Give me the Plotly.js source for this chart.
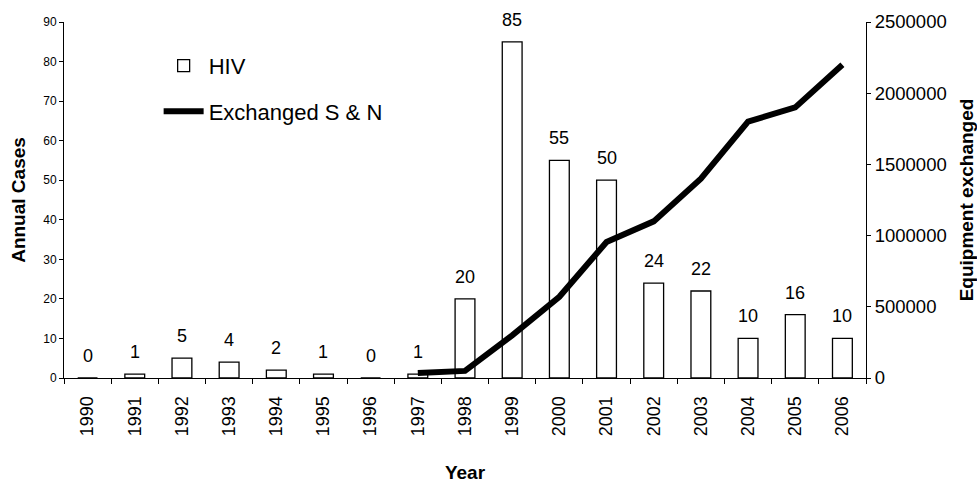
<!DOCTYPE html>
<html>
<head>
<meta charset="utf-8">
<script src="https://cdn.plot.ly/plotly-3.0.1.min.js"></script>
<style>html,body{margin:0;padding:0;background:#fff;}#chart{width:977px;height:483px;}</style>
</head>
<body>
<div id="chart"></div>
<script>
const years = ['1990','1991','1992','1993','1994','1995','1996','1997','1998','1999','2000','2001','2002','2003','2004','2005','2006'];
const hivCases = [0,1,5,4,2,1,0,1,20,85,55,50,24,22,10,16,10];
const exchanged = [null,null,null,null,null,null,null,35000,50000,300000,570000,955000,1100000,1400000,1800000,1900000,2200000];

const FONT = '"Liberation Sans", Arial, sans-serif';

const traces = [
  {
    type: 'bar', name: 'HIV', x: years, y: hivCases, yaxis: 'y',
    marker: {color: '#ffffff', line: {color: '#000000', width: 1.3}},
    legendgroup: 'a', hoverinfo: 'none'
  },
  {
    type: 'scatter', mode: 'lines', name: 'Exchanged S & N', x: years, y: exchanged, yaxis: 'y2',
    line: {color: '#000000', width: 6}, connectgaps: false,
    legendgroup: 'b', hoverinfo: 'none'
  }
];

const annotations = years.map((yr, i) => ({
  x: i, y: hivCases[i], xref: 'x', yref: 'y',
  text: String(hivCases[i]), showarrow: false,
  yshift: 22, yanchor: 'middle', xanchor: 'center',
  font: {family: FONT, size: 18, color: '#000'}
}));

const layout = {
  width: 977, height: 483,
  margin: {l: 64, r: 111, t: 22, b: 105, pad: 0},
  paper_bgcolor: '#ffffff', plot_bgcolor: '#ffffff',
  font: {family: FONT, color: '#000'},
  bargap: 0.58,
  showlegend: true,
  legend: {
    x: 0.118, y: 0.936, xanchor: 'left', yanchor: 'top',
    font: {family: FONT, size: 22, color: '#000'},
    traceorder: 'grouped', tracegroupgap: 14,
    bgcolor: 'rgba(0,0,0,0)', itemwidth: 40
  },
  xaxis: {
    type: 'category', categoryorder: 'array', categoryarray: years,
    range: [-0.5, years.length - 0.5], autorange: false,
    tickangle: -90, tickson: 'boundaries',
    ticks: 'outside', ticklen: 5, tickcolor: '#000', tickwidth: 1,
    ticksuffix: '\u00a0\u00a0',
    showline: true, linecolor: '#000', linewidth: 1, showgrid: false, zeroline: false,
    tickfont: {family: FONT, size: 18, color: '#000'},
    title: {text: '<b>Year</b>', font: {family: FONT, size: 19, color: '#000'}, standoff: 36},
    automargin: false, fixedrange: true
  },
  yaxis: {
    range: [0, 90], autorange: false, dtick: 10, tick0: 0,
    ticks: 'outside', ticklen: 4, tickcolor: '#000',
    showline: true, linecolor: '#000', linewidth: 1, showgrid: false, zeroline: false,
    tickfont: {family: FONT, size: 12, color: '#000'},
    title: {text: '<b>Annual Cases</b>', font: {family: FONT, size: 19, color: '#000'}, standoff: 12},
    automargin: false, fixedrange: true
  },
  yaxis2: {
    overlaying: 'y', side: 'right', range: [0, 2500000], autorange: false, dtick: 500000, tick0: 0,
    tickformat: 'd',
    ticks: 'outside', ticklen: 4, tickcolor: '#000',
    showline: true, linecolor: '#000', linewidth: 1, showgrid: false, zeroline: false,
    tickfont: {family: FONT, size: 18.5, color: '#000'},
    title: {text: '<b>Equipment exchanged</b>', font: {family: FONT, size: 19, color: '#000'}, standoff: 14},
    automargin: false, fixedrange: true
  },
  annotations: annotations
};

Plotly.newPlot('chart', traces, layout, {displayModeBar: false, staticPlot: true});
</script>
</body>
</html>
